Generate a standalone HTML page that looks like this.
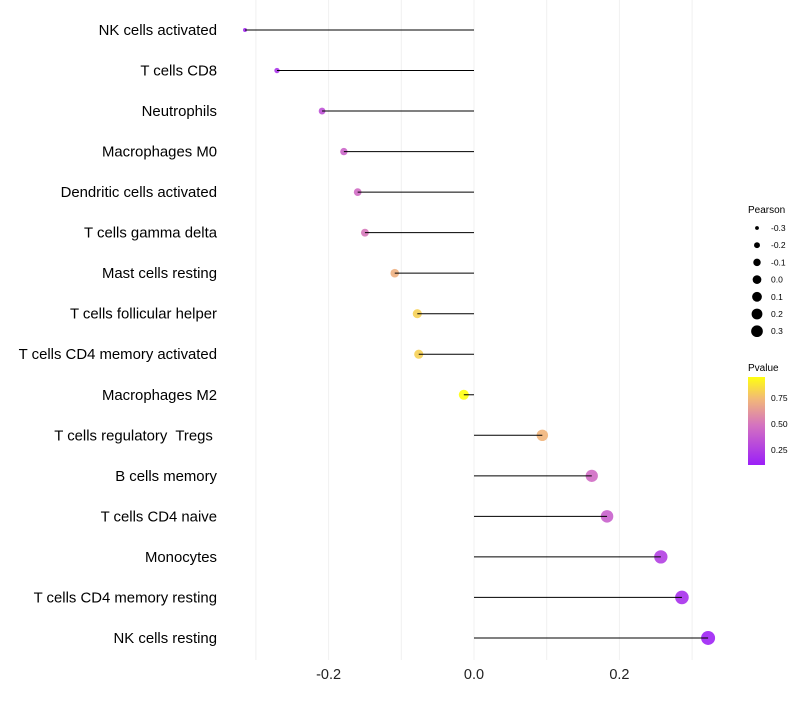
<!DOCTYPE html>
<html><head><meta charset="utf-8"><style>
body{margin:0;background:#fff;width:800px;height:700px;overflow:hidden}
svg text{font-family:"Liberation Sans",sans-serif;white-space:pre}
</style></head><body>
<svg id="chart" width="800" height="700" xmlns="http://www.w3.org/2000/svg">
<defs><linearGradient id="pg" x1="0" y1="1" x2="0" y2="0">
<stop offset="0" stop-color="#9b1ff8"/><stop offset="0.45" stop-color="#d472c0"/><stop offset="0.75" stop-color="#f2b878"/><stop offset="1" stop-color="#ffff10"/></linearGradient></defs>
<g id="grid"></g>
<g id="pts"></g>
<g id="marks"></g>
<g id="ylabels"></g>
<g id="xticks"></g>
<g id="sleg">
<text x="748" y="213" font-size="10">Pearson</text>
</g>
<g>
<text x="748" y="371" font-size="10">Pvalue</text>
<rect x="748" y="377" width="17" height="88" fill="url(#pg)"/>
<text x="771" y="401" font-size="8.5">0.75</text>
<text x="771" y="427" font-size="8.5">0.50</text>
<text x="771" y="453" font-size="8.5">0.25</text>
</g>
</svg>
<script>
const categories=["NK cells activated","T cells CD8","Neutrophils","Macrophages M0","Dendritic cells activated","T cells gamma delta","Mast cells resting","T cells follicular helper","T cells CD4 memory activated","Macrophages M2","T cells regulatory  Tregs ","B cells memory","T cells CD4 naive","Monocytes","T cells CD4 memory resting","NK cells resting"];
const pearson=[-0.315,-0.271,-0.209,-0.179,-0.160,-0.150,-0.109,-0.078,-0.076,-0.014,0.094,0.162,0.183,0.257,0.286,0.322];
const pvalue=[0.15,0.2,0.33,0.42,0.45,0.5,0.7,0.8,0.8,0.95,0.72,0.45,0.4,0.25,0.18,0.12];
const xTicks=[-0.2,0.0,0.2];
const gridVals=[-0.3,-0.2,-0.1,0,0.1,0.2,0.3];
const sizeLegend=[-0.3,-0.2,-0.1,0.0,0.1,0.2,0.3];
const NS="http://www.w3.org/2000/svg";
const x=v=>474+v*727;
const y=i=>30+i*40.53;
const r=v=>Math.sqrt(Math.max(2,26.2+v*70.6));
function lerp(a,b,t){return a.map((c,k)=>Math.round(c+(b[k]-c)*t));}
const stops=[[0.1,[155,31,248]],[0.48,[212,114,192]],[0.73,[242,184,120]],[0.94,[255,255,16]]];
function col(p){if(p<=stops[0][0])return 'rgb('+stops[0][1]+')';for(let k=1;k<stops.length;k++){if(p<=stops[k][0]){const t=(p-stops[k-1][0])/(stops[k][0]-stops[k-1][0]);return 'rgb('+lerp(stops[k-1][1],stops[k][1],t)+')';}}return 'rgb('+stops[3][1]+')';}
function mk(tag,at,parent){const e=document.createElementNS(NS,tag);for(const k in at)e.setAttribute(k,at[k]);document.getElementById(parent).appendChild(e);return e;}
gridVals.forEach(v=>{const l=mk('line',{x1:x(v),x2:x(v),y1:0,y2:660,stroke:'#f0f0f0','stroke-width':1},'grid');

});
categories.forEach((c,i)=>{
const t=mk('text',{x:217,y:y(i)+5,'font-size':14.9,'text-anchor':'end',fill:'#000'},'ylabels');t.textContent=c;


const d=mk('circle',{cx:x(pearson[i]),cy:y(i),r:r(pearson[i]),fill:col(pvalue[i]),'fill-opacity':0.9},'pts');


const l=mk('line',{x1:x(0),x2:x(pearson[i]),y1:y(i),y2:y(i),stroke:'#000','stroke-width':1},'marks');


});
xTicks.forEach(v=>{const t=mk('text',{x:x(v),y:679,'font-size':14.5,'text-anchor':'middle',fill:'#222'},'xticks');t.textContent=v.toFixed(1);

});
sizeLegend.forEach((v,k)=>{const cy=228+k*17.2;
const c=mk('circle',{cx:757,cy:cy,r:r(v)*0.85,fill:'#000'},'sleg');


const t=mk('text',{x:771,y:cy+3,'font-size':8.5},'sleg');t.textContent=v.toFixed(1);

});
</script>
</body></html>
